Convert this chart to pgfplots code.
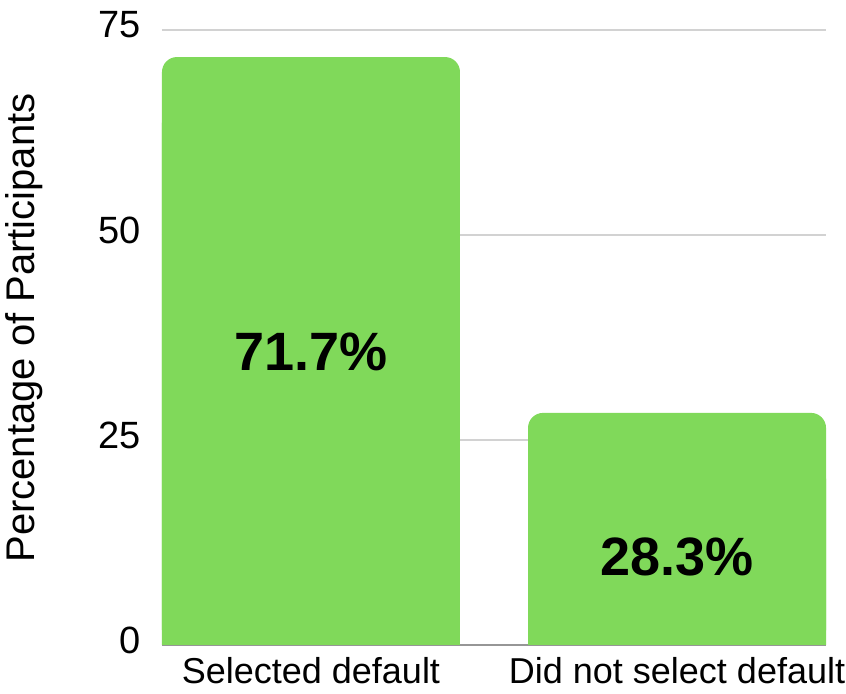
\documentclass[border=0pt]{standalone}
\usepackage{fontspec}
\setmainfont{Liberation Sans}
\usepackage{pgfplots}
\pgfplotsset{compat=1.18}
\definecolor{barg}{RGB}{128,217,90}
\definecolor{gridc}{RGB}{210,210,210}
\definecolor{basec}{RGB}{150,150,150}
\begin{document}
\begin{tikzpicture}
\begin{axis}[
  name=ax,
  scale only axis,
  width=332pt, height=307.5pt,
  xmin=-0.407, xmax=1.407,
  ymin=0, ymax=75,
  ytick={0,25,50,75},
  xtick={0,1},
  xticklabels={Selected default, Did not select default},
  /pgf/number format/assume math mode=true,
  separate axis lines,
  axis x line*=bottom,
  axis y line*=left,
  y axis line style={draw=none},
  x axis line style={draw=basec, line width=0.6pt},
  major tick length=0pt,
  tick style={draw=none},
  ymajorgrids,
  grid style={draw=gridc, line width=0.6pt},
  yticklabel style={font=\fontsize{19}{19}\selectfont, xshift=-7pt, yshift=2.5pt},
  xticklabel style={font=\fontsize{18}{18}\selectfont, yshift=-2.5pt},
  ylabel={Percentage of Participants},
  every axis y label/.style={at={([xshift=-63.5pt]axis description cs:0,0.5155)}, anchor=base, rotate=90, font=\fontsize{20}{20}\selectfont},
  clip=false,
]
\addplot[ybar, bar width=149pt, bar shift=0pt, fill=barg, draw=none, rounded corners=7.5pt] coordinates {(0,71.7) (1,28.3)};
\addplot[ybar, bar width=149pt, bar shift=0pt, fill=barg, draw=none] table[x=x, y expr=\thisrow{y}-8] {
x y
0 71.7
1 28.3
};
\node[font=\fontsize{27}{27}\selectfont\bfseries] at (axis cs:0,35.7) {71.7\%};
\node[font=\fontsize{27}{27}\selectfont\bfseries] at (axis cs:1,10.7) {28.3\%};
\end{axis}
\pgfresetboundingbox
\path[use as bounding box] ([xshift=-81pt,yshift=-24.5pt]ax.south west) rectangle ([xshift=10pt,yshift=15pt]ax.north east);
\end{tikzpicture}
\end{document}
